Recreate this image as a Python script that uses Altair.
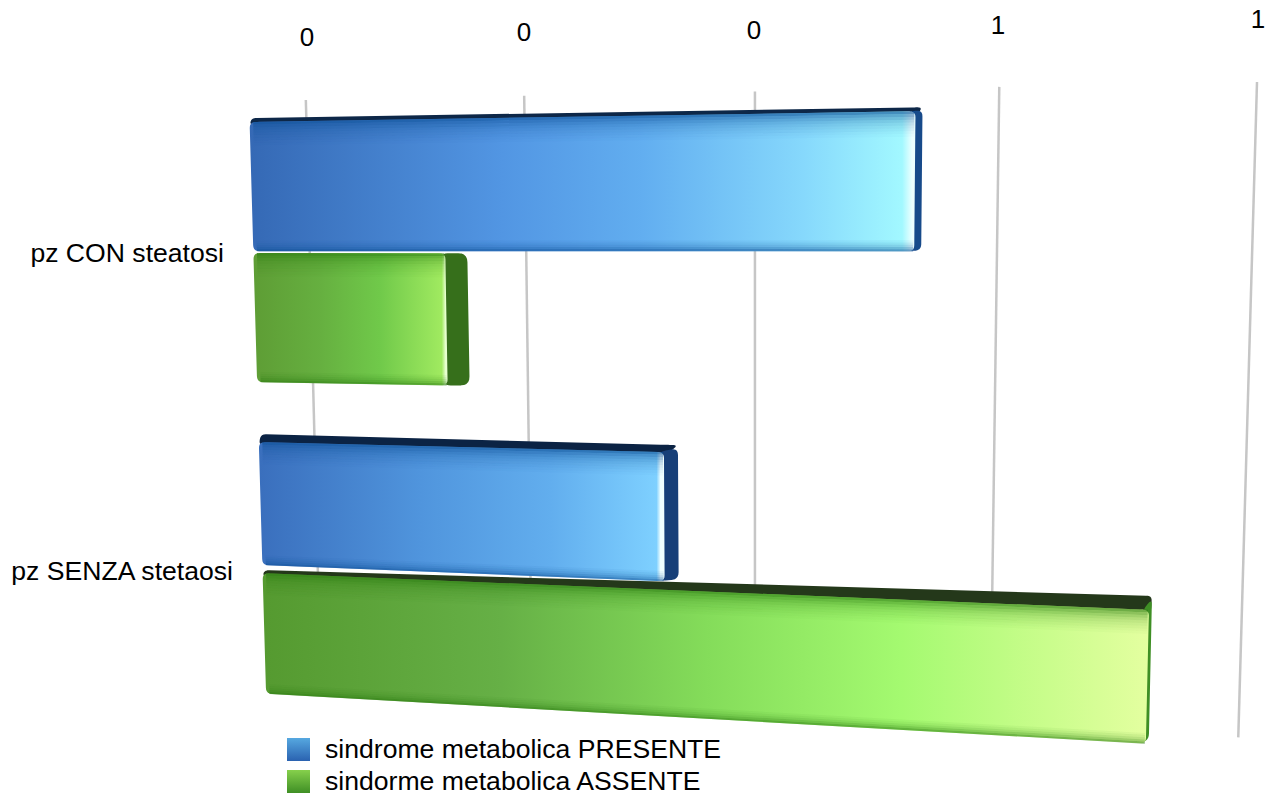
import numpy as np
import pandas as pd
import altair as alt

CATEGORIES = ["pz CON steatosi", "pz SENZA stetaosi"]
SERIES = ["sindrome metabolica PRESENTE", "sindorme metabolica ASSENTE"]
TICK_LABELS = ["0", "0", "0", "1", "1"]
TICK_VALUES = [0.0632, 0.2977, 0.5322, 0.7667, 1.0]
TICK_LABEL_X = [307, 524, 754, 998, 1258]
TICK_LABEL_Y = [38, 33, 31, 26, 20]

# bar lengths, drawn green first so the blue bar lies over it
BAR_NAMES = ["green1", "blue1", "green2", "blue2"]
BAR_VALUES = [0.2115, 0.688, 0.9148, 0.4394]
BAR_D0 = [0.2509, 0.0344, 0.7933, 0.5688]
BAR_D1 = [0.4672, 0.2476, 1.003, 0.7794]
CAP_WIDTH = [22, 7, 3, 14]
STRIP_LEFT = [0, 4, 3, 8]
STRIP_RIGHT = [0, 4, 14, 7]
CAP_RADIUS = [9, 6, 6, 7]
CAP_COLOR = ["#366f1b", "#174a8a", "#3f8f25", "#173f78"]
STRIP_COLOR = ["#2f5a18", "#0d2748", "#24381a", "#0b2344"]
FACE_STOPS = [
    [(0, "#5e9d35"), (0.35, "#66b040"), (0.65, "#70c94a"), (0.97, "#a0ea60"), (0.99, "#e8ffd0"), (1, "#e8ffd0")],
    [(0, "#3569b5"), (0.38, "#5296e3"), (0.59, "#62aef0"), (0.83, "#86d8fc"), (0.98, "#a2f8ff"), (0.995, "#ecffff"), (1, "#ecffff")],
    [(0, "#559a30"), (0.27, "#66b046"), (0.5, "#84dc5a"), (0.72, "#a4fa70"), (1, "#e4ffa0")],
    [(0, "#3a6fbd"), (0.4, "#5095dd"), (0.72, "#62aeee"), (0.98, "#7ed0ff"), (0.99, "#f0ffff"), (1, "#f0ffff")],
]
SHADE_COLOR = ["#2a7a10", "#0c4f96", "#2a7a10", "#0c4f96"]
TOP_SHADE = [0.62, 0.46, 0.34, 0.25, 0.18, 0.13, 0.09, 0.05, 0.025]
BOTTOM_SHADE = [0.55, 0.36, 0.22, 0.12, 0.05]

LEGEND_STOPS = [[(0, "#56a8e0"), (1, "#2a62b0")], [(0, "#86d04c"), (1, "#3f8f25")]]

# projection of the tilted chart plane
P00, P10, P01, P11 = (249, 101), (1257, 82), (266, 692), (1238, 747)
A = []
b = []
for (u, d), (PX, PY) in zip([(0, 0), (1, 0), (0, 1), (1, 1)], [P00, P10, P01, P11]):
    A.append([u, d, 1, 0, 0, 0, -u * PX, -d * PX]); b.append(PX)
    A.append([0, 0, 0, u, d, 1, -u * PY, -d * PY]); b.append(PY)
H = np.linalg.solve(np.array(A, float), np.array(b, float))


def proj(u, d):
    w = H[6] * u + H[7] * d + 1
    return ((H[0] * u + H[1] * d + H[2]) / w, (H[3] * u + H[4] * d + H[5]) / w)


def rounded(poly, r):
    out = []
    n = len(poly)
    for i in range(n):
        p = np.array(poly[i], float)
        a = np.array(poly[i - 1], float)
        c = np.array(poly[(i + 1) % n], float)
        ra = min(r, np.linalg.norm(a - p) / 2)
        rc = min(r, np.linalg.norm(c - p) / 2)
        s = p + (a - p) / max(np.linalg.norm(a - p), 1e-6) * ra
        e = p + (c - p) / max(np.linalg.norm(c - p), 1e-6) * rc
        for t in np.linspace(0, 1, 6):
            out.append(tuple((1 - t) ** 2 * s + 2 * t * (1 - t) * p + t ** 2 * e))
    return out


def to_area(poly):
    xs = sorted({round(x, 3) for x, _ in poly})
    rows = []
    n = len(poly)
    for x in xs:
        ys = []
        for i in range(n):
            (x0, y0), (x1, y1) = poly[i], poly[(i + 1) % n]
            lo, hi = min(x0, x1) - 0.002, max(x0, x1) + 0.002
            if lo <= x <= hi:
                if abs(x1 - x0) < 1e-6:
                    ys += [y0, y1]
                else:
                    ys.append(y0 + (y1 - y0) * (x - x0) / (x1 - x0))
        if ys:
            rows.append({"x": x, "y": min(ys), "y2": max(ys)})
    return pd.DataFrame(rows)


sx = alt.Scale(domain=[8, 1266], range=[0, 1258], nice=False, zero=False)
sy = alt.Scale(domain=[794, 8], range=[786, 0], nice=False, zero=False)
X = alt.X("x:Q", scale=sx, axis=None)
Y = alt.Y("y:Q", scale=sy, axis=None)


def area(poly, color, opacity=1.0):
    return alt.Chart(to_area(poly)).mark_area(color=color, opacity=opacity, interpolate="linear").encode(
        x=X, y=Y, y2="y2:Q"
    )


def grad(stops, vertical=False):
    return alt.Gradient(
        gradient="linear", x1=0, y1=0, x2=0 if vertical else 1, y2=1 if vertical else 0,
        stops=[alt.GradientStop(offset=o, color=c) for o, c in stops],
    )


layers = []

# grid lines
for i, u in enumerate(TICK_VALUES):
    pts = [proj(u, 0), proj(u, 0.985)]
    df = pd.DataFrame({"x": [p[0] for p in pts], "y": [p[1] for p in pts], "k": [0, 1]})
    layers.append(alt.Chart(df).mark_line(color="#c6c6c6", strokeWidth=2.5).encode(x=X, y=Y, order="k:Q"))

# top axis labels
layers.append(
    alt.Chart(pd.DataFrame({"x": TICK_LABEL_X, "y": TICK_LABEL_Y, "t": TICK_LABELS}))
    .mark_text(font="Liberation Sans", fontSize=26, color="#000000", align="center", baseline="middle")
    .encode(x=X, y=Y, text="t:N")
)

# bars
for i, name in enumerate(BAR_NAMES):
    u1, d0, d1 = BAR_VALUES[i], BAR_D0[i], BAR_D1[i]
    tl, tr, br, bl = proj(0, d0), proj(u1, d0), proj(u1, d1), proj(0, d1)
    cap, sl, sr = CAP_WIDTH[i], STRIP_LEFT[i], STRIP_RIGHT[i]
    btr = (tr[0] + cap, tr[1] - sr)
    bbr = (br[0] + cap, br[1] - sr * 0.3)
    btl = (tl[0] + 2, tl[1] - sl)
    # top strip
    if sr > 0:
        layers.append(area(rounded([btl, btr, (tr[0] + 2, tr[1] + 3), (tl[0], tl[1] + 3)], 5), STRIP_COLOR[i]))
    # end cap, tucked a little under the face
    layers.append(area(rounded([(tr[0] - 6, tr[1]), (btr[0], btr[1] + (3 if sr else 0)), bbr, (br[0] - 6, br[1])], CAP_RADIUS[i]), CAP_COLOR[i]))
    # face
    layers.append(area(rounded([tl, tr, br, bl], 6), grad(FACE_STOPS[i])))
    # soft shading along the top and bottom edges of the face
    span = d1 - d0
    step_t, step_b = 0.02, 0.016
    bands = [(k * step_t, (k + 1) * step_t, op) for k, op in enumerate(TOP_SHADE)]
    bands += [(1 - (k + 1) * step_b, 1 - k * step_b, op) for k, op in enumerate(BOTTOM_SHADE)]
    for f0, f1, op in bands:
        a, c = d0 + f0 * span, d0 + f1 * span
        strip = [proj(0.004, a), proj(u1 - 0.001, a), proj(u1 - 0.001, c), proj(0.004, c)]
        layers.append(area(strip, SHADE_COLOR[i], op))

# category labels
CAT_X = [224, 233]
CAT_Y = [254, 572]
layers.append(
    alt.Chart(pd.DataFrame({"x": CAT_X, "y": CAT_Y, "t": CATEGORIES}))
    .mark_text(font="Liberation Sans", fontSize=26.6, color="#000000", align="right", baseline="middle")
    .encode(x=X, y=Y, text="t:N")
)

# legend
LEG_TOP = [738, 770]
for top, lab, stops in zip(LEG_TOP, SERIES, LEGEND_STOPS):
    sq = [(287, top), (310, top), (310, top + 23), (287, top + 23)]
    layers.append(area(sq, grad(stops, vertical=True)))
    layers.append(
        alt.Chart(pd.DataFrame({"x": [325], "y": [top + 12], "t": [lab]}))
        .mark_text(font="Liberation Sans", fontSize=26.6, color="#000000", align="left", baseline="middle")
        .encode(x=X, y=Y, text="t:N")
    )

chart = alt.layer(*layers).properties(
    width=1258, height=786, padding=0, autosize=alt.AutoSizeParams(type="none")
).configure_view(stroke=None)

chart.save("out.html", embed_options={"renderer": "svg", "actions": False})
